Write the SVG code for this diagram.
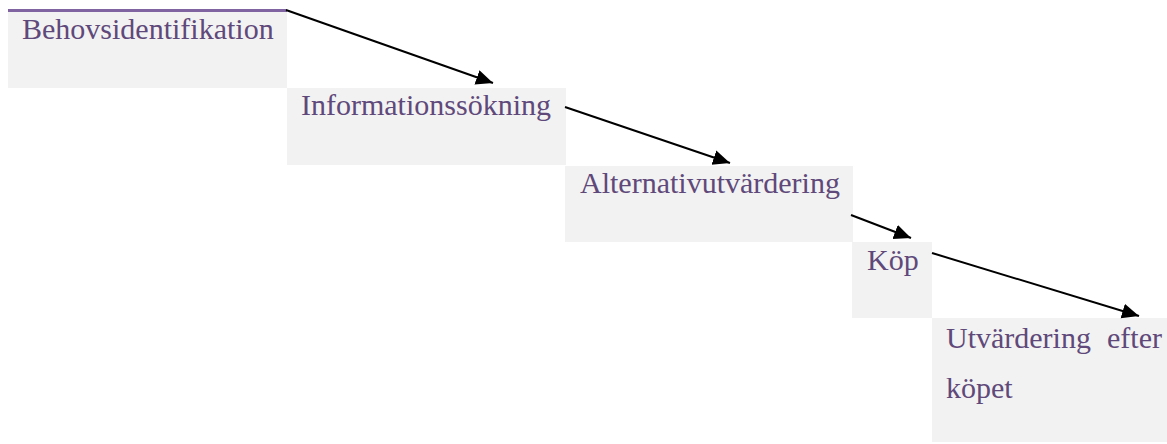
<svg xmlns="http://www.w3.org/2000/svg" width="1167" height="444" viewBox="0 0 1167 444">
<style>
.box{fill:#f2f2f2;}
.t{font-family:"Liberation Serif","Times New Roman",serif;font-size:30px;fill:#5f497a;}
.c{stroke:#000;stroke-width:2;fill:none;marker-end:url(#ah);}
</style>
<defs>
<marker id="ah" markerUnits="userSpaceOnUse" markerWidth="20" markerHeight="16" refX="17" refY="7.5" orient="auto">
<path d="M0,0 L17,7.5 L0,15 Z" fill="#000"/>
</marker>
</defs>
<rect width="1167" height="444" fill="#fff"/>
<g id="n1">
<rect class="box" x="8" y="10" width="279" height="78"/>
<line x1="8" y1="10.5" x2="287" y2="10.5" stroke="#8064a2" stroke-width="3"/>
<text class="t" x="22" y="39">Behovsidentifikation</text>
</g>
<g id="n2">
<rect class="box" x="287" y="88" width="279" height="77"/>
<text class="t" x="301" y="115">Informationssökning</text>
</g>
<g id="n3">
<rect class="box" x="565" y="166" width="288" height="76"/>
<text class="t" x="580" y="193">Alternativutvärdering</text>
</g>
<g id="n4">
<rect class="box" x="852" y="242" width="80" height="76"/>
<text class="t" x="867" y="270">Köp</text>
</g>
<g id="n5">
<rect class="box" x="932" y="318" width="235" height="124"/>
<text class="t" x="946" y="348">Utvärdering</text>
<text class="t" x="1162" y="348" text-anchor="end">efter</text>
<text class="t" x="946" y="398">köpet</text>
</g>
<g id="connectors">
<line class="c" x1="286" y1="10" x2="493" y2="83"/>
<line class="c" x1="565" y1="107" x2="730" y2="163"/>
<line class="c" x1="851" y1="215" x2="911" y2="238"/>
<line class="c" x1="932" y1="253" x2="1139" y2="316"/>
</g>
</svg>
